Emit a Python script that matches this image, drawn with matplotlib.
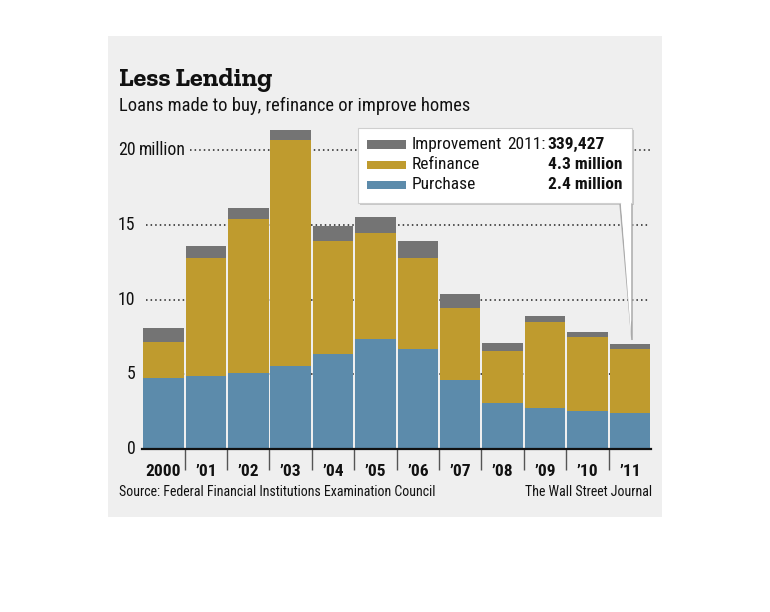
import matplotlib
matplotlib.use("Agg")
import matplotlib.pyplot as plt
from matplotlib.patches import Rectangle, Polygon

years = ["2000", "\u201901", "\u201902", "\u201903", "\u201904", "\u201905",
         "\u201906", "\u201907", "\u201908", "\u201909", "\u201910", "\u201911"]
purchase = [4.73, 4.89, 5.07, 5.54, 6.38, 7.34, 6.69, 4.62, 3.06, 2.77, 2.52, 2.39]
refinance = [2.45, 7.89, 10.32, 15.14, 7.56, 7.10, 6.07, 4.84, 3.48, 5.75, 4.96, 4.28]
improvement = [0.90, 0.83, 0.72, 0.67, 1.01, 1.11, 1.18, 0.94, 0.58, 0.40, 0.35, 0.34]
yticks = [0, 5, 10, 15, 20]
ytick_labels = ["0", "5", "10", "15", "20"]
title = "Less Lending"
subtitle = "Loans made to buy, refinance or improve homes"
source = "Source: Federal Financial Institutions Examination Council"
credit = "The Wall Street Journal"
legend_labels = ["Improvement", "Refinance", "Purchase"]
legend_values = ["339,427", "4.3 million", "2.4 million"]

C_IMP = "#747474"
C_REF = "#BF9B2E"
C_PUR = "#5C8BAB"
BG = "#EFEFEF"

NARROW = ["Roboto Condensed", "Liberation Sans", "DejaVu Sans"]
SLAB = ["Zilla Slab", "Bitter", "DejaVu Serif"]

W, H = 770, 612
fig = plt.figure(figsize=(W / 100, H / 100), dpi=100)
fig.patch.set_facecolor("white")

def fx(px):
    return px / W

def fy(py):
    return 1 - py / H

# gray panel
fig.patches.append(Rectangle((fx(108), fy(517)), fx(662) - fx(108), fy(36) - fy(517),
                             transform=fig.transFigure, facecolor=BG, edgecolor="none", zorder=-5))

x0, x1 = 142.3, 651.0
ybase, ytop = 449.0, 118.0
ppu = 14.94
ax = fig.add_axes([fx(x0), fy(ybase), (x1 - x0) / W, (ybase - ytop) / H])
ax.set_zorder(1)
ax.set_facecolor("none")
ax.set_xlim(-0.5, len(years) - 0.5)
ax.set_ylim(0, (ybase - ytop) / ppu)

xs = list(range(len(years)))
bw = 0.955
ref_bottom = purchase
imp_bottom = [p + r for p, r in zip(purchase, refinance)]
ax.bar(xs, purchase, width=bw, color=C_PUR, zorder=3)
ax.bar(xs, refinance, bottom=ref_bottom, width=bw, color=C_REF, zorder=3)
ax.bar(xs, improvement, bottom=imp_bottom, width=bw, color=C_IMP, zorder=3)

def axx(px):
    return (px - x0) / (x1 - x0)

for v in yticks[1:]:
    start = 190 if v == 20 else 146
    ax.plot([axx(start), axx(650)], [v, v], transform=ax.get_yaxis_transform(),
            color="#222222", lw=1.1, ls=(0, (1, 2.0)), zorder=1, clip_on=False)

for v, lab in zip(yticks, ytick_labels):
    ax.text(axx(135.5), v, lab, transform=ax.get_yaxis_transform(), ha="right", va="center",
            fontsize=12.8, family=NARROW, color="#111111")
    if v == 20:
        ax.text(axx(138.5), v, "million", transform=ax.get_yaxis_transform(), ha="left",
                va="center", fontsize=12.8, family=NARROW, color="#111111")

for s in ["left", "right", "top"]:
    ax.spines[s].set_visible(False)
ax.spines["bottom"].set_linewidth(1.6)
ax.spines["bottom"].set_color("#111111")
ax.spines["bottom"].set_zorder(5)
ax.set_yticks([])
ax.set_xticks(xs)
ax.set_xticklabels(years, fontsize=12.5, family=NARROW, fontweight="bold", color="#111111")
ax.tick_params(axis="x", which="major", length=0, pad=11)
ax.set_xticks([x + 0.5 for x in xs[:-1]], minor=True)
ax.tick_params(axis="x", which="minor", length=15, width=1.0, color="#555555", direction="out")

fig.text(fx(119), fy(86), title, fontsize=19, fontweight="bold", family=SLAB,
         ha="left", va="baseline", color="#111111")
fig.text(fx(119), fy(111), subtitle, fontsize=13.3, family=NARROW,
         ha="left", va="baseline", color="#111111")
fig.text(fx(119), fy(492), source, fontsize=10, family=NARROW,
         ha="left", va="center", color="#111111")
fig.text(fx(652), fy(492), credit, fontsize=10, family=NARROW,
         ha="right", va="center", color="#111111")

# callout legend box
bx0, by0, bx1, by1 = 358, 128, 632, 203
fig.patches.append(Rectangle((fx(bx0 + 2), fy(by1 + 2)), fx(bx1) - fx(bx0), fy(by0) - fy(by1),
                             transform=fig.transFigure, facecolor="#C8C8C8", edgecolor="none",
                             zorder=6))
fig.patches.append(Polygon([(fx(620), fy(by1)), (fx(bx1), fy(by1)), (fx(632), fy(340))],
                           closed=True, transform=fig.transFigure, facecolor="white",
                           edgecolor="#AAAAAA", lw=1.1, zorder=6))
fig.patches.append(Rectangle((fx(bx0), fy(by1)), fx(bx1) - fx(bx0), fy(by0) - fy(by1),
                             transform=fig.transFigure, facecolor="white", edgecolor="#CFCFCF",
                             lw=0.8, zorder=7))
fig.patches.append(Polygon([(fx(621), fy(by1 - 1)), (fx(bx1 - 1), fy(by1 - 1)), (fx(631), fy(336))],
                           closed=True, transform=fig.transFigure, facecolor="white",
                           edgecolor="none", zorder=8))

rows_y = [144.5, 165, 184.5]
cols = [C_IMP, C_REF, C_PUR]
for ry, c, lab in zip(rows_y, cols, legend_labels):
    fig.patches.append(Rectangle((fx(367), fy(ry + 4)), fx(406) - fx(367), fy(ry - 4) - fy(ry + 4),
                                 transform=fig.transFigure, facecolor=c, edgecolor="none", zorder=9))
    fig.text(fx(412), fy(ry), lab, fontsize=12.5, family=NARROW, ha="left", va="center",
             color="#111111", zorder=9)
fig.text(fx(605), fy(rows_y[0]), legend_values[0], fontsize=12.5, family=NARROW,
         fontweight="bold", ha="right", va="center", color="#111111", zorder=9)
fig.text(fx(546), fy(rows_y[0]), "2011:", fontsize=12.5, family=NARROW,
         ha="right", va="center", color="#111111", zorder=9)
for ry, val in zip(rows_y[1:], legend_values[1:]):
    fig.text(fx(623), fy(ry), val, fontsize=12.5, family=NARROW, fontweight="bold",
             ha="right", va="center", color="#111111", zorder=9)

fig.savefig("out.png", dpi=100, facecolor="white")
